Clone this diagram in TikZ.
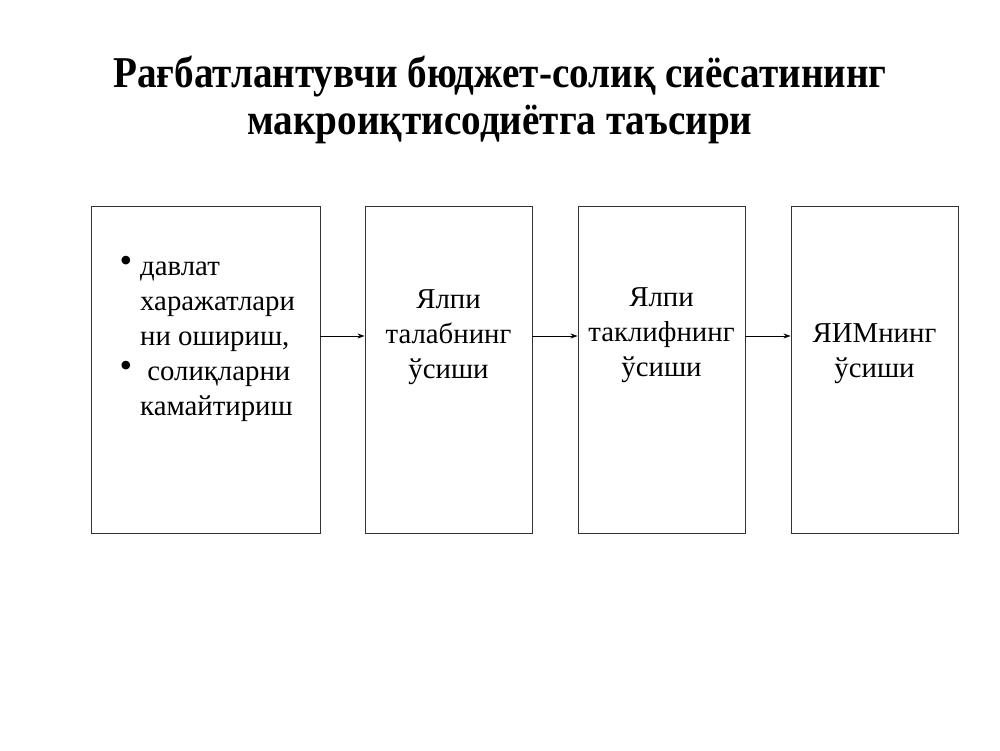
\documentclass[tikz,border=0pt]{standalone}
\usepackage{fontspec}
\setmainfont{Liberation Serif}
\usetikzlibrary{arrows.meta}
\tikzset{>=Stealth}
\tikzset{
  box/.style={draw=black!80, line width=0.9pt, inner sep=0pt},
  txt/.style={font=\fontsize{28.8}{35}\selectfont, align=center, inner sep=0pt},
  link/.style={->, line width=0.8pt, >={Stealth[length=7pt,width=5pt]}}
}
\newcommand{\bigdot}{\llap{\raisebox{3pt}{\fontsize{36}{36}\selectfont\textbullet}\hspace{8pt}}}

\begin{document}
\begin{tikzpicture}[x=1pt, y=-1pt]
    \useasboundingbox (0,0) rectangle (1000,750);
    % title
    \node[font=\fontsize{44}{47}\bfseries\selectfont, align=center, inner sep=0pt] (title) at (500,100)
        {\scalebox{0.89}[1]{Рағбатлантувчи бюджет-солиқ сиёсатининг}\\
         \scalebox{0.89}[1]{макроиқтисодиётга таъсири}};
    % boxes
    \node[box, minimum width=229pt, minimum height=327pt] (b1) at (205.5,369.5) {};
    \node[box, minimum width=167pt, minimum height=327pt] (b2) at (448.5,369.5) {};
    \node[box, minimum width=167pt, minimum height=327pt] (b3) at (661.5,369.5) {};
    \node[box, minimum width=167pt, minimum height=327pt] (b4) at (874.5,369.5) {};
    % texts
    \node[txt, align=left, anchor=west] (t1) at (140,339)
        {\bigdot давлат\\харажатлари\\ни ошириш,\\\bigdot\ солиқларни\\камайтириш};
    \node[txt] (t2) at (448.5,337) {Ялпи\\талабнинг\\ўсиши};
    \node[txt] (t3) at (661.5,335) {Ялпи\\таклифнинг\\ўсиши};
    \node[txt] (t4) at (874.5,354) {ЯИМнинг\\ўсиши};
    % arrows
    \coordinate (lvl) at (0,336);
    \draw[link] (b1.east |- lvl) -- (b2.west |- lvl);
    \draw[link] (b2.east |- lvl) -- (b3.west |- lvl);
    \draw[link] (b3.east |- lvl) -- (b4.west |- lvl);
\end{tikzpicture}
\end{document}
